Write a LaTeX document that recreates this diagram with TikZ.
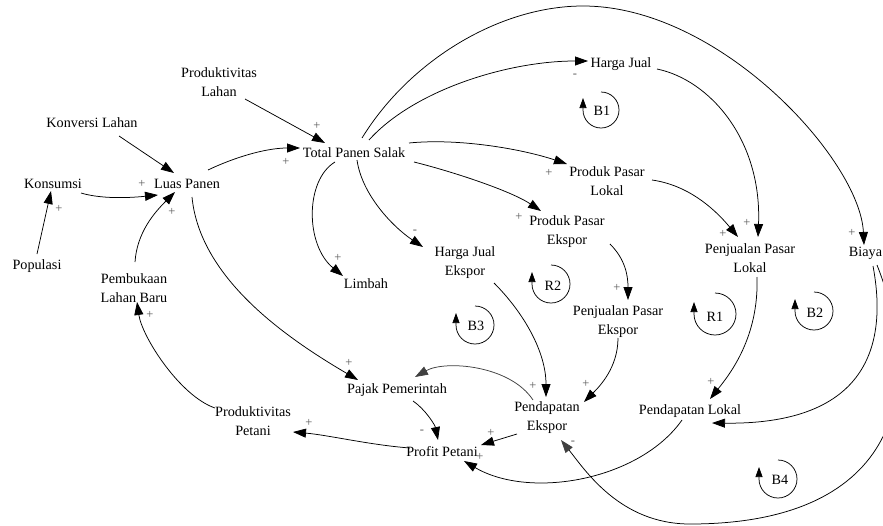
\documentclass[tikz,border=0pt]{standalone}
\usepackage{fontspec}
\setmainfont{Liberation Serif}
\usetikzlibrary{arrows.meta}
\begin{document}
\begin{tikzpicture}[x=1pt,y=-1pt,
  var/.style={inner sep=0pt,align=center,font=\fontsize{14.2}{19}\selectfont},
  sgn/.style={inner sep=0pt,text=black!65,font=\fontsize{12.5}{14}\selectfont},
  lk/.style={draw=black,line width=0.75pt,-{Triangle[length=13pt,width=9pt]}},
  lkgray/.style={draw=black,line width=0.75pt,-{Triangle[length=13pt,width=9pt,color=black!75]}},
  loopc/.style={draw=black,line width=0.75pt,-{Triangle[length=10pt,width=7pt]}}]
\useasboundingbox[fill=white] (0,0) rectangle (883,525);
% variables
\node[var] (pl) at (219,82) {Produktivitas\\Lahan};
\node[var] (kl) at (92,123) {Konversi Lahan};
\node[var] (ko) at (53,184) {Konsumsi};
\node[var] (lp) at (187,184) {Luas Panen};
\node[var] (po) at (37,266) {Populasi};
\node[var] (plb) at (134,288) {Pembukaan\\Lahan Baru};
\node[var] (tps) at (354,153) {Total Panen Salak};
\node[var] (hj) at (621,64) {Harga Jual};
\node[var] (ppl) at (607,181) {Produk Pasar\\Lokal};
\node[var] (ppe) at (567,232) {Produk Pasar\\Ekspor};
\node[var] (hje) at (465,263) {Harga Jual\\Ekspor};
\node[var] (li) at (366,284) {Limbah};
\node[var] (pje) at (618,322) {Penjualan Pasar\\Ekspor};
\node[var] (pjl) at (750,258) {Penjualan Pasar\\Lokal};
\node[var] (bi) at (865.5,253) {Biaya};
\node[var] (pp) at (397,390) {Pajak Pemerintah};
\node[var] (ptp) at (253,421) {Produktivitas\\Petani};
\node[var] (pf) at (442,452) {Profit Petani};
\node[var] (pe) at (547,418) {Pendapatan\\Ekspor};
\node[var] (pdl) at (690,411) {Pendapatan Lokal};
% links
\draw[lk] ([shift={(26,17)}]pl.center) -- ([shift={(-29,-10)}]tps.center);
\draw[lk] ([shift={(27,13)}]kl.center) -- ([shift={(-13,-11)}]lp.center);
\draw[lk] ([shift={(28,9)}]ko.center) .. controls +(20,6) and +(-30,3) .. ([shift={(-29,11)}]lp.center);
\draw[lk] ([shift={(0,-12)}]po.center) -- ([shift={(-2,7)}]ko.center);
\draw[lk] ([shift={(1,-26)}]plb.center) .. controls +(2,-30) and +(-20,20) .. ([shift={(-12,8)}]lp.center);
\draw[lk] ([shift={(21,-14)}]lp.center) .. controls +(25,-12) and +(-35,0) .. ([shift={(-54,-5)}]tps.center);
\draw[lk] ([shift={(5,13)}]lp.center) .. controls +(8,83) and +(-68,-40) .. ([shift={(-39,-10)}]pp.center);
\draw[lk] ([shift={(15,-13)}]tps.center) .. controls +(45,-50) and +(-80,0) .. ([shift={(-33,-3)}]hj.center);
\draw[lk] ([shift={(8,-15)}]tps.center) .. controls (410,60) and (500,6) .. (583,6) .. controls (720,6) and (860,160) .. ([shift={(-1.5,-8)}]bi.center);
\draw[lk] ([shift={(55,-10)}]tps.center) .. controls +(50,-5) and +(-45,-15) .. ([shift={(-40,-17)}]ppl.center);
\draw[lk] ([shift={(60,9)}]tps.center) .. controls +(40,10) and +(-30,-20) .. ([shift={(-26,-21)}]ppe.center);
\draw[lk] ([shift={(3,7)}]tps.center) .. controls +(5,35) and +(-30,-20) .. ([shift={(-42,-16)}]hje.center);
\draw[lk] ([shift={(-19,9)}]tps.center) .. controls (305,180) and (305,245) .. ([shift={(-23,-8)}]li.center);
\draw[lk] ([shift={(36,5)}]hj.center) .. controls +(53,11) and +(4,-97) .. ([shift={(8,-21)}]pjl.center);
\draw[lk] ([shift={(45,-1)}]ppl.center) .. controls +(35,5) and +(-25,-30) .. ([shift={(-12,-21)}]pjl.center);
\draw[lk] ([shift={(43,12)}]ppe.center) .. controls +(15,15) and +(0,-25) .. ([shift={(10,-22)}]pje.center);
\draw[lk] ([shift={(29,20)}]hje.center) .. controls +(30,30) and +(0,-45) .. ([shift={(-1,-21)}]pe.center);
\draw[lk] ([shift={(0,16)}]pje.center) .. controls +(0,30) and +(15,-15) .. ([shift={(37,-16)}]pe.center);
\draw[lk] ([shift={(7,19)}]pjl.center) .. controls +(2,60) and +(20,-25) .. ([shift={(20,-12)}]pdl.center);
\draw[lk] ([shift={(7.5,13)}]bi.center) .. controls (885,330) and (880,425) .. ([shift={(22,12)}]pdl.center);
\draw[lkgray] ([shift={(11.5,12)}]bi.center) .. controls (930,400) and (890,524) .. (690,524) .. controls (620,524) and (585,470) .. ([shift={(14,22)}]pe.center);
\draw[lkgray,draw=black!75] ([shift={(-14,-18)}]pe.center) .. controls (510,365) and (445,360) .. ([shift={(18,-13)}]pp.center);
\draw[lk] ([shift={(-30,16)}]pe.center) -- ([shift={(39,-7)}]pf.center);
\draw[lk] ([shift={(-8,9)}]pdl.center) .. controls (640,480) and (530,500) .. ([shift={(22,9)}]pf.center);
\draw[lk] ([shift={(16,11)}]pp.center) .. controls +(12,8) and +(-3,-15) .. ([shift={(-4,-12)}]pf.center);
\draw[lk] ([shift={(-32,-4)}]pf.center) .. controls +(-40,-3) and +(35,3) .. ([shift={(40,11)}]ptp.center);
\draw[lk] ([shift={(-38,-13)}]ptp.center) .. controls +(-35,-12) and +(5,35) .. ([shift={(3,14)}]plb.center);
% polarity signs
\node[sgn] (s1) at (317,126) {+};
\node[sgn] (s2) at (142,184) {+};
\node[sgn] (s3) at (59,209) {+};
\node[sgn] (s4) at (172,212) {+};
\node[sgn] (s5) at (286,162) {+};
\node[sgn] (s6) at (349,363) {+};
\node[sgn] (s7) at (575,76) {-};
\node[sgn] (s8) at (852,233) {+};
\node[sgn] (s9) at (549,173) {+};
\node[sgn] (s10) at (519,217) {+};
\node[sgn] (s11) at (415,232) {-};
\node[sgn] (s12) at (338,258) {+};
\node[sgn] (s13) at (747,223) {+};
\node[sgn] (s14) at (723,234) {+};
\node[sgn] (s15) at (617,288) {+};
\node[sgn] (s16) at (533,386) {+};
\node[sgn] (s17) at (586,384) {+};
\node[sgn] (s18) at (711,382) {+};
\node[sgn] (s19) at (573,443) {-};
\node[sgn] (s20) at (491,433) {+};
\node[sgn] (s21) at (480,457) {+};
\node[sgn] (s22) at (422,432) {-};
\node[sgn] (s23) at (309,423) {+};
\node[sgn] (s24) at (150,315) {+};
% loop markers
\draw[loopc] (601,110) ++(0,-18) arc[start angle=270,end angle=540,radius=18] -- ++(0,-12);
\node[var] (lb1) at (602,111) {B1};
\draw[loopc] (551,284) ++(0,-19) arc[start angle=270,end angle=540,radius=19] -- ++(0,-12);
\node[var] (lr2) at (553,286) {R2};
\draw[loopc] (475,325) ++(0,-19) arc[start angle=270,end angle=540,radius=19] -- ++(0,-12);
\node[var] (lb3) at (476,326) {B3};
\draw[loopc] (715,314) ++(0,-21) arc[start angle=270,end angle=540,radius=21] -- ++(0,-12);
\node[var] (lr1) at (715,317) {R1};
\draw[loopc] (814,311) ++(0,-19) arc[start angle=270,end angle=540,radius=19] -- ++(0,-12);
\node[var] (lb2) at (815,313) {B2};
\draw[loopc] (778,479) ++(0,-19) arc[start angle=270,end angle=540,radius=19] -- ++(0,-12);
\node[var] (lb4) at (780,480) {B4};
\end{tikzpicture}
\end{document}
